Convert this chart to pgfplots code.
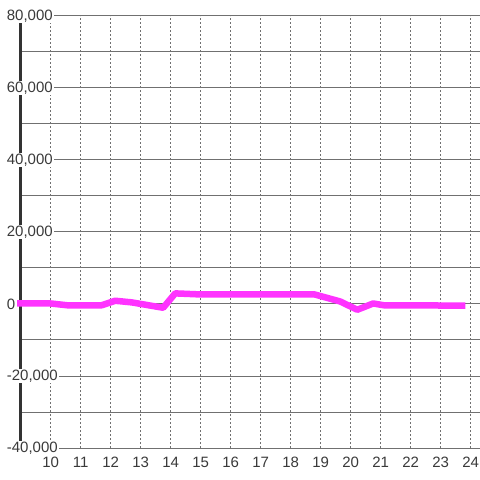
\documentclass[border=0pt]{standalone}
\usepackage{pgfplots}
\pgfplotsset{compat=1.18}
\usepackage{fontspec}
\setmainfont{Liberation Sans}
\definecolor{gridc}{HTML}{707070}
\definecolor{axc}{HTML}{333333}
\definecolor{txt}{HTML}{3A3A3A}
\definecolor{mag}{HTML}{FF33FF}
\begin{document}
\begin{tikzpicture}
\useasboundingbox (0,0) rectangle (480pt,480pt);
\fill[white] (0,0) rectangle (480pt,480pt);
\begin{axis}[
  at={(20.7pt,32pt)}, anchor=south west,
  scale only axis, width=459.3pt, height=432pt,
  xmin=9, xmax=24.31, ymin=-40000, ymax=80000,
  clip=false,
  axis y line*=left, axis x line*=bottom,
  y axis line style={line width=3pt, axc},
  x axis line style={line width=1pt, gridc},
  xtick={10,...,24},
  ytick={-40000,-20000,20000,40000,60000,80000},
  minor ytick={-30000,-10000,10000,30000,50000,70000},
  extra y ticks={0},
  extra y tick style={grid style={line width=3pt, axc}},
  xmajorgrids, ymajorgrids, yminorgrids,
  x grid style={gridc, line width=1pt, dash pattern=on 2pt off 2pt},
  y grid style={gridc, line width=1pt},
  major tick length=0pt, minor tick length=0pt,
  tick style={draw=none},
  scaled y ticks=false,
  /pgf/number format/.cd, 1000 sep={,}, assume math mode=true,
  /pgfplots/.cd,
  ticklabel style={font=\fontsize{15}{16}\selectfont, text=txt},
  yticklabel style={anchor=west, xshift=-15pt, fill=white, inner sep=1pt},
  xticklabel style={anchor=north, yshift=-5.5pt},
]
\addplot[mag, line width=6.5pt, line join=round] coordinates {
  (8.88,200) (10.0,150) (10.6,-400) (11.7,-350) (12.15,900) (12.7,450)
  (13.75,-1050) (14.15,2950) (15.0,2650) (18.8,2650) (19.65,700)
  (20.22,-1600) (20.75,150) (21.1,-350) (23.82,-450)
};
\end{axis}
\end{tikzpicture}
\end{document}
